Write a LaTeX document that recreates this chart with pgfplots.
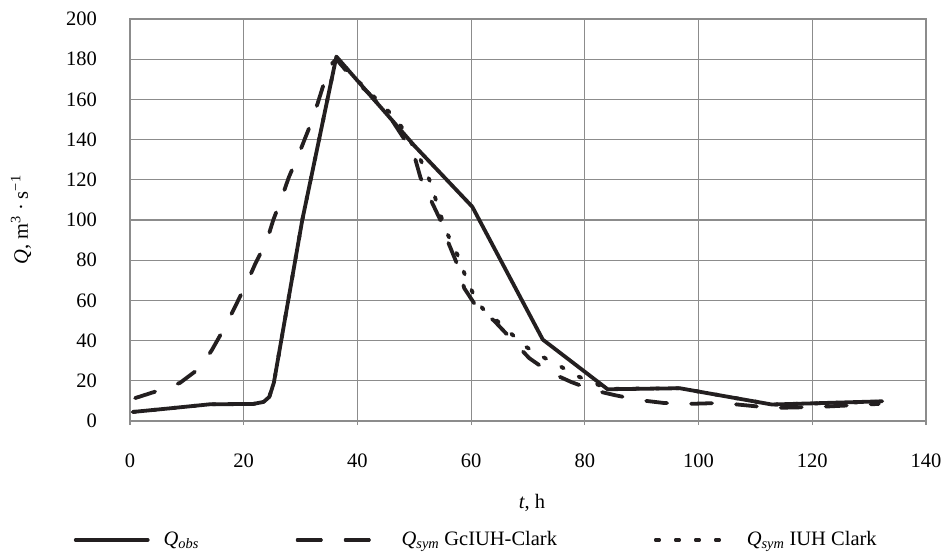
\documentclass[border=0pt]{standalone}
\usepackage{fontspec}
\setmainfont{Liberation Serif}
\usepackage{pgfplots}
\pgfplotsset{compat=1.18}
\definecolor{ink}{HTML}{231F20}
\definecolor{gridc}{HTML}{8C8C8C}
\pgfplotsset{
  legsolid/.style={legend image code/.code={\draw[##1] (0bp,0bp) -- (72bp,0bp);}},
  legdash/.style={legend image code/.code={\draw[##1] (0bp,0bp) -- (72bp,0bp); \path (0bp,0bp) -- (88bp,0bp);}},
  legdot/.style={legend image code/.code={\draw[##1] (0bp,0bp) -- (63bp,0bp); \path (0bp,0bp) -- (75bp,0bp);}},
}
\pgfplotstableread{
x y
0.5 4.5
7 6.3
14 8.3
21.7 8.5
23.5 9.5
24.5 12
25.3 19
30.3 100
36.3 181.3
50 137
60.2 106.6
72.6 40.5
84 15.8
96.7 16.3
112.9 8.2
132.3 9.8
}\obs
\pgfplotstableread{
x y
0.9 11.4
5.3 15.4
8.8 19
12.3 26.4
14.4 35.3
16.7 46.8
18.5 57
20.6 69
22 78
24.1 90
25.2 100
26.8 112
27.9 121
30 135
31.4 145
33 158
34 167
34.8 174
35.6 178
36.3 180
39 171
42 163
46 150
49.9 133
51.1 121
52.9 110
55 97.5
55.8 90
57.6 77.6
58.8 66
60.5 58.7
62 54
64 50
66.4 42.8
70.2 31.3
73.7 24.4
77.6 19.4
81.4 15.4
85.2 12.9
89.6 10.4
93.8 9
98.2 8.5
104 9
113 6.5
121 7
131.7 8.5
}\gciuh
\pgfplotstableread{
x y
0.5 4.5
7 6.3
14 8.3
21.7 8.5
23.5 9.5
24.5 12
25.3 19
30.3 100
36.3 181.3
39.3 171.3
42 164
44.4 157
46.7 150.7
48.8 142
51.1 130
52.9 118.4
54 108
55.5 95
57.6 82.6
59 72
60.2 64.3
62 56
64.5 50
66.7 44.3
69.7 36.8
72.5 32
75.3 27.9
78.2 22.9
81.1 19.5
84 16
96.7 16.3
112.9 8.2
132.3 9.6
}\iuh
\begin{document}
\fontsize{20.5bp}{24.6bp}\selectfont
\begin{tikzpicture}
\path[use as bounding box] (-130bp,-132bp) rectangle (813bp,421bp);
\begin{axis}[
  at={(0,0)}, anchor=south west,
  scale only axis, width=796bp, height=402bp,
  xmin=0, xmax=140, ymin=0, ymax=200,
  xtick={0,20,...,140}, ytick={0,20,...,200},
  grid=major, grid style={gridc, line width=1.1bp},
  axis line style={gridc, line width=1.1bp},
  xtick align=outside, xtick pos=bottom, ytick pos=left,
  major tick length=4bp,
  xtick style={gridc, line width=1.1bp},
  ytick style={draw=none},
  /pgf/number format/assume math mode=true,
  tick label style={font=\fontsize{20.5bp}{24.6bp}\selectfont},
  xticklabel style={anchor=center, yshift=-36bp},
  yticklabel style={anchor=east, xshift=-26bp},
  label style={font=\fontsize{20.5bp}{24.6bp}\selectfont},
  xlabel={\textit{t}, h},
  every axis x label/.style={at={(axis description cs:0.505,-0.205)}, anchor=center},
  ylabel={\textit{Q}, m\textsuperscript{3} · s\textsuperscript{−1}},
  every axis y label/.style={at={(axis description cs:-0.137,0.5)}, rotate=90, anchor=center},
  legend columns=3,
  legend cell align=left,
  legend style={at={(axis description cs:0.435,-0.296)}, anchor=center, draw=none, fill=none,
    font=\fontsize{20.5bp}{24.6bp}\selectfont,
    /tikz/every odd column/.append style={column sep=12bp},
    /tikz/every even column/.append style={column sep=95bp}},
]
\addlegendimage{ink, line width=3.8bp, line cap=round, legsolid}
\addlegendentry{\textit{Q}\textsubscript{\textit{obs}}}
\addlegendimage{ink, line width=3.8bp, line cap=round, dash pattern=on 23bp off 25bp, legdash}
\addlegendentry{\textit{Q}\textsubscript{\textit{sym}} GcIUH-Clark}
\addlegendimage{ink, line width=3.8bp, line cap=round, dash pattern=on 3bp off 17bp, legdot}
\addlegendentry{\textit{Q}\textsubscript{\textit{sym}} IUH Clark}
\addplot[forget plot, ink, line width=3.8bp, line cap=round, line join=round, dash pattern=on 3bp off 17bp] table {\iuh};
\addplot[forget plot, ink, line width=3.8bp, line cap=round, line join=round, dash pattern=on 21bp off 24bp] table {\gciuh};
\addplot[forget plot, ink, line width=3.8bp, line cap=round, line join=round] table {\obs};
\end{axis}
\end{tikzpicture}
\end{document}
